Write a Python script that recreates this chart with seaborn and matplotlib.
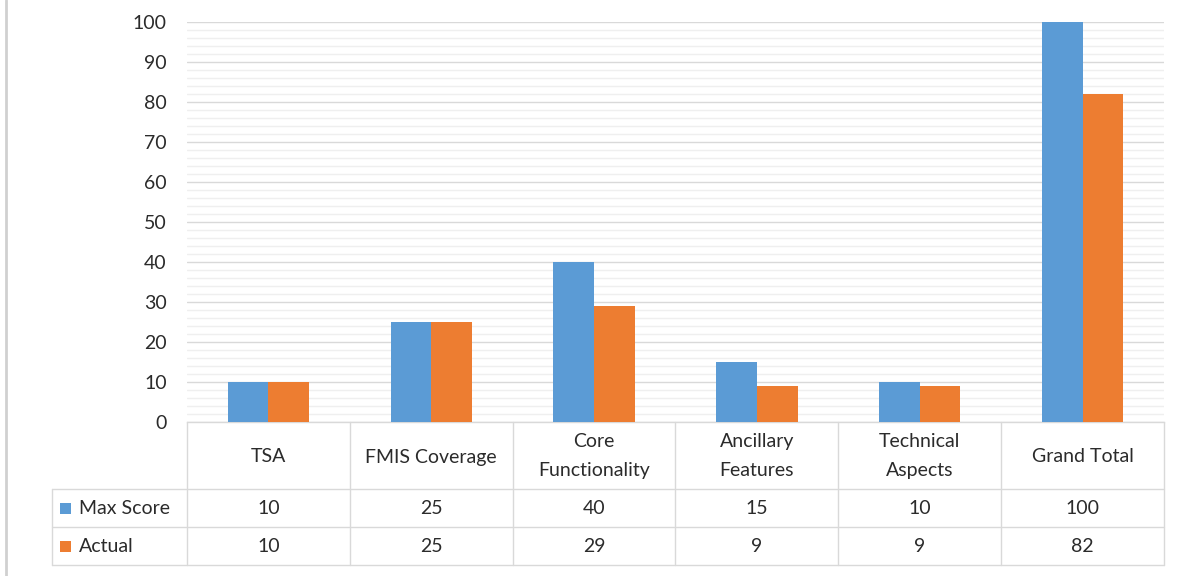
import matplotlib
matplotlib.use("Agg")
import matplotlib.pyplot as plt
from matplotlib.transforms import blended_transform_factory
from matplotlib.lines import Line2D
from matplotlib.patches import Rectangle
import seaborn as sns
import pandas as pd

categories = ["TSA", "FMIS Coverage", "Core Functionality", "Ancillary Features",
              "Technical Aspects", "Grand Total"]
category_labels = ["TSA", "FMIS Coverage", "Core\nFunctionality", "Ancillary\nFeatures",
                   "Technical\nAspects", "Grand Total"]
max_score = [10, 25, 40, 15, 10, 100]
actual = [10, 25, 29, 9, 9, 82]
series_names = ["Max Score", "Actual"]
colors = ["#5B9BD5", "#ED7D31"]

sns.set_theme(style="white")
plt.rcParams["font.family"] = ["Lato", "DejaVu Sans"]

df = pd.DataFrame({
    "category": categories * 2,
    "series": [series_names[0]] * len(categories) + [series_names[1]] * len(categories),
    "value": max_score + actual,
})

W, H = 1181, 576
fig = plt.figure(figsize=(W / 100, H / 100), dpi=100)
fig.patch.set_facecolor("white")

def fx(px):
    return px / W

def fy(py):
    return 1 - py / H

FS = 14
TXT = "#2B2B2B"

x0, x1, ytop, ybot = 187, 1164, 22, 422
ax = fig.add_axes([fx(x0), fy(ybot), fx(x1) - fx(x0), fy(ytop) - fy(ybot)])

sns.barplot(data=df, x="category", y="value", hue="series", palette=colors,
            width=0.5, gap=0, ax=ax, legend=False, saturation=1,
            edgecolor="none", zorder=3)

ax.set_xlim(-0.5, len(categories) - 0.5)
ax.set_ylim(0, 100)
ax.set_yticks(range(0, 101, 10))
ax.set_yticks(range(0, 101, 2), minor=True)
ax.grid(axis="y", which="major", color="#D9D9D9", linewidth=1.0, zorder=0)
ax.grid(axis="y", which="minor", color="#EFEFEF", linewidth=1.0, zorder=0)
ax.set_axisbelow(True)
for s in ["top", "right", "left"]:
    ax.spines[s].set_visible(False)
ax.spines["bottom"].set_color("#D9D9D9")
ax.spines["bottom"].set_linewidth(1.0)
ax.set_xticks([])
ax.set_xlabel("")
ax.set_ylabel("")
ax.tick_params(axis="y", which="both", length=0, pad=14.5, labelsize=FS,
               labelcolor=TXT)

# data table under the plot: x in category units, y in figure fraction
tr = blended_transform_factory(ax.transData, fig.transFigure)
col_w = (x1 - x0) / len(categories)
left_edge = -0.5 - (x0 - 52) / col_w
grid_kw = dict(color="#D9D9D9", linewidth=1.0, transform=tr, clip_on=False)

row_lines = [489, 527, 565]
for py in row_lines:
    fig.add_artist(Line2D([left_edge, len(categories) - 0.5], [fy(py), fy(py)], **grid_kw))
for i in range(len(categories) + 1):
    xb = i - 0.5
    fig.add_artist(Line2D([xb, xb], [fy(422), fy(565)], **grid_kw))
fig.add_artist(Line2D([left_edge, left_edge], [fy(489), fy(565)], **grid_kw))

text_kw = dict(transform=tr, fontsize=FS, color=TXT, va="center")
for i, lab in enumerate(category_labels):
    yc = 456 if "\n" in lab else 457
    fig.text(i, fy(yc), lab, ha="center", linespacing=1.85, **text_kw)
for i, (m, a) in enumerate(zip(max_score, actual)):
    fig.text(i, fy(509), str(m), ha="center", **text_kw)
    fig.text(i, fy(547), str(a), ha="center", **text_kw)

# series keys in the first table column
for name, c, py in zip(series_names, colors, [508, 546]):
    fig.add_artist(Rectangle((fx(60), fy(py + 5.5)), fx(11), 11 / H,
                             transform=fig.transFigure, facecolor=c, edgecolor="none"))
    fig.text(fx(79), fy(py + 1), name, ha="left", va="center", fontsize=FS, color=TXT)

# outer frame edge on the left
fig.add_artist(Line2D([fx(6), fx(6)], [0, 1], color="#D0D0D0", linewidth=2,
                      transform=fig.transFigure))

fig.savefig("out.png", dpi=100, facecolor="white")
